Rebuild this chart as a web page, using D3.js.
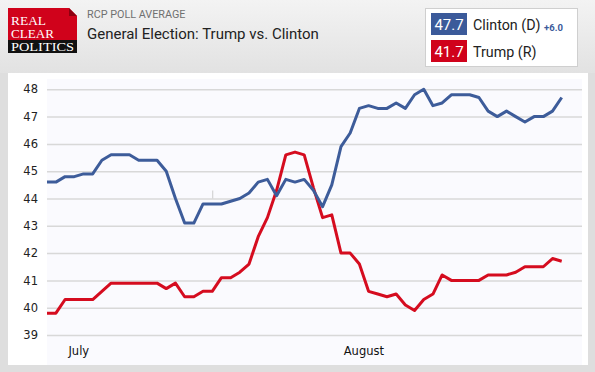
<!DOCTYPE html>
<html>
<head>
<meta charset="utf-8">
<script src="https://cdn.jsdelivr.net/npm/d3@7"></script>
<style>
  body { margin: 0; background: #dedede; }
  svg { display: block; }
</style>
</head>
<body>
<svg id="chart" width="595" height="372"></svg>
<script>
// daily RCP averages, June 28 -> Aug 23 2016
var startDate = "2016-06-28";
var clinton = [44.6, 44.6, 44.8, 44.8, 44.9, 44.9, 45.4, 45.6, 45.6, 45.6,
               45.4, 45.4, 45.4, 45.0, 44.0, 43.1, 43.1, 43.8, 43.8, 43.8,
               43.9, 44.0, 44.2, 44.6, 44.7, 44.1, 44.7, 44.6, 44.7, 44.3,
               43.7, 44.5, 45.9, 46.4, 47.3, 47.4, 47.3, 47.3, 47.5, 47.3,
               47.8, 48.0, 47.4, 47.5, 47.8, 47.8, 47.8, 47.7, 47.2, 47.0,
               47.2, 47.0, 46.8, 47.0, 47.0, 47.2, 47.7];
var trump = [39.8, 39.8, 40.3, 40.3, 40.3, 40.3, 40.6, 40.9, 40.9, 40.9,
             40.9, 40.9, 40.9, 40.7, 40.9, 40.4, 40.4, 40.6, 40.6, 41.1,
             41.1, 41.3, 41.6, 42.6, 43.3, 44.3, 45.6, 45.7, 45.6, 44.4,
             43.3, 43.4, 42.0, 42.0, 41.6, 40.6, 40.5, 40.4, 40.5, 40.1,
             39.9, 40.3, 40.5, 41.2, 41.0, 41.0, 41.0, 41.0, 41.2, 41.2,
             41.2, 41.3, 41.5, 41.5, 41.5, 41.8, 41.7];
var yTicks = [39, 40, 41, 42, 43, 44, 45, 46, 47, 48];
var monthTicks = ["2016-07-01", "2016-08-01"];
var monthLabels = ["July", "August"];
var spread = "+6.0";

var blue = "#3d5c9a", red = "#d50c1f";

var svg = d3.select("#chart");
var parse = d3.timeParse("%Y-%m-%d");
var t0 = parse(startDate);
var dates = clinton.map(function(d, i) { return d3.timeDay.offset(t0, i); });

// header background
var defs = svg.append("defs");
var grad = defs.append("linearGradient").attr("id", "hdr")
  .attr("x1", 0).attr("y1", 0).attr("x2", 0).attr("y2", 1);
grad.append("stop").attr("offset", "0%").attr("stop-color", "#f3f3f3");
grad.append("stop").attr("offset", "100%").attr("stop-color", "#e2e2e2");
svg.append("rect").attr("width", 595).attr("height", 73).attr("fill", "url(#hdr)");

// logo
var logo = svg.append("g");
logo.append("path").attr("d", "M8,8H69L77,16V40H8Z").attr("fill", "#d0021b");
logo.append("path").attr("d", "M69,8L77,16H69Z").attr("fill", "#8e0010");
logo.append("rect").attr("x", 8).attr("y", 40).attr("width", 69).attr("height", 13).attr("fill", "#111");
[["REAL", 25, 35], ["CLEAR", 37.5, 43], ["POLITICS", 50.5, 63]].forEach(function(r) {
  logo.append("text").attr("x", 11).attr("y", r[1])
    .attr("textLength", r[2]).attr("lengthAdjust", "spacingAndGlyphs")
    .style("font", "12.5px 'Liberation Serif', serif").attr("fill", "#fff").text(r[0]);
});

svg.append("text").attr("x", 87).attr("y", 18)
  .style("font", "10.8px Roboto, sans-serif").attr("fill", "#707070")
  .text("RCP POLL AVERAGE");
svg.append("text").attr("x", 87).attr("y", 39)
  .style("font", "15px Roboto, sans-serif").attr("fill", "#222")
  .text("General Election: Trump vs. Clinton");

// legend box
var leg = svg.append("g");
leg.append("rect").attr("x", 425.5).attr("y", 8.5).attr("width", 152).attr("height", 58)
  .attr("fill", "#fff").attr("stroke", "#cfcfcf");
var legRows = [
  {val: clinton[clinton.length - 1], name: "Clinton (D)", col: "#3b5a9a", y: 13},
  {val: trump[trump.length - 1], name: "Trump (R)", col: "#d0021b", y: 40}
];
legRows.forEach(function(r) {
  leg.append("rect").attr("x", 431).attr("y", r.y).attr("width", 36).attr("height", 22).attr("fill", r.col);
  leg.append("text").attr("x", 449).attr("y", r.y + 16.5).attr("text-anchor", "middle")
    .style("font", "15px Roboto, sans-serif").attr("fill", "#fff").text(r.val.toFixed(1));
  leg.append("text").attr("x", 473).attr("y", r.y + 17)
    .style("font", "14.3px Roboto, sans-serif").attr("fill", "#222").text(r.name);
});
leg.append("text").attr("x", 544).attr("y", 30.5)
  .style("font", "bold 9.5px Roboto, sans-serif").attr("fill", "#3b5a9a").text(spread);

// chart panel
svg.append("rect").attr("x", 8).attr("y", 73).attr("width", 580).attr("height", 292).attr("fill", "#fff");
var plot = {left: 47, right: 582, top: 79, bottom: 365};
svg.append("rect").attr("x", plot.left).attr("y", plot.top)
  .attr("width", plot.right - plot.left).attr("height", plot.bottom - plot.top).attr("fill", "#fafafe");

var x = d3.scaleTime().domain([dates[0], dates[dates.length - 1]]).range([46.7, 561.7]);
var y = d3.scaleLinear().domain([39, 48]).range([335, 89.3]);

var yAxis = d3.axisLeft(y).tickValues(yTicks).tickSize(plot.left - plot.right).tickPadding(9);
var gy = svg.append("g").attr("transform", "translate(" + plot.left + ",0)").call(yAxis);
gy.select(".domain").remove();
gy.selectAll(".tick line").attr("stroke", "#d8d8d8").attr("stroke-width", 1.5);
gy.selectAll(".tick text").attr("fill", "#222").attr("x", -9)
  .style("font", "11.5px 'DejaVu Sans', Verdana, sans-serif");

var xAxis = d3.axisBottom(x).tickValues(monthTicks.map(parse))
  .tickFormat(function(d, i) { return monthLabels[i]; }).tickSize(0).tickPadding(0);
var gx = svg.append("g").attr("transform", "translate(4,355)").call(xAxis);
gx.select(".domain").remove();
gx.selectAll(".tick text").attr("fill", "#111").attr("dy", 0)
  .style("font", "11.5px 'DejaVu Sans', Verdana, sans-serif");

defs.append("clipPath").attr("id", "clip").append("rect")
  .attr("x", plot.left).attr("y", plot.top).attr("width", plot.right - plot.left).attr("height", plot.bottom - plot.top);

// faint hover marker
svg.append("line").attr("x1", x(dates[18]) + 0.5).attr("x2", x(dates[18]) + 0.5)
  .attr("y1", y(44) - 8).attr("y2", y(44)).attr("stroke", "#ccc");

var line = d3.line().x(function(d, i) { return x(dates[i]); }).y(function(d) { return y(d); });
var lines = svg.append("g").attr("clip-path", "url(#clip)");
lines.append("path").datum(trump).attr("d", line)
  .attr("fill", "none").attr("stroke", red).attr("stroke-width", 3).attr("stroke-linejoin", "round");
lines.append("path").datum(clinton).attr("d", line)
  .attr("fill", "none").attr("stroke", blue).attr("stroke-width", 3).attr("stroke-linejoin", "round");
</script>
</body>
</html>
